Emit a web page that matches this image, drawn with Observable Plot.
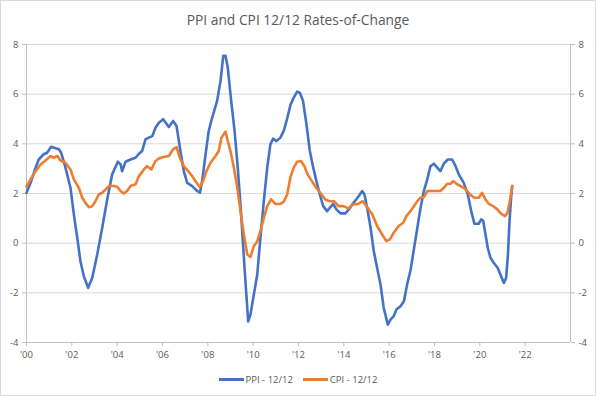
<!DOCTYPE html>
<html>
<head>
<meta charset="utf-8">
<script src="https://cdn.jsdelivr.net/npm/d3@7"></script>
<script src="https://cdn.jsdelivr.net/npm/@observablehq/plot@0.6"></script>
<style>
  html, body { margin: 0; padding: 0; background: #fff; }
  #chart { position: relative; width: 596px; height: 396px; font-family: "Open Sans", sans-serif; color: #595959; overflow: hidden; }
  #frame { position: absolute; left: 0; top: 0; right: 0; bottom: 0; border: 1px solid #d9d9d9; pointer-events: none; }
  #title { position: absolute; left: 0; width: 596px; top: 10px; text-align: center; font-size: 13.8px; line-height: 20px; color: #595959; }
  #plot { position: absolute; left: 0; top: 36px; }
  #legend { position: absolute; left: 0; width: 596px; top: 371px; height: 16px; display: flex; justify-content: center; align-items: center; font-size: 9.5px; color: #595959; }
  .item { display: flex; align-items: center; margin: 0 5px; }
  .sw { display: inline-block; width: 25px; height: 3px; margin-right: 2px; }
</style>
</head>
<body>
<div id="chart">
  <div id="title">PPI and CPI 12/12 Rates-of-Change</div>
  <div id="plot"></div>
  <div id="legend"></div>
  <div id="frame"></div>
</div>
<script>
const seriesNames = ["PPI - 12/12", "CPI - 12/12"];
const seriesColors = ["#4472C4", "#ED7D31"];
const yTicks = [-4, -2, 0, 2, 4, 6, 8];
const xTicks = [2000, 2002, 2004, 2006, 2008, 2010, 2012, 2014, 2016, 2018, 2020, 2022];

const ppiDates = [2000.00,2000.18,2000.40,2000.54,2000.76,2000.91,2001.09,2001.28,2001.43,2001.53,2001.72,2001.94,2002.09,2002.24,2002.38,2002.53,2002.72,2002.90,2003.12,2003.34,2003.56,2003.78,2004.03,2004.15,2004.22,2004.37,2004.59,2004.81,2004.96,2005.10,2005.25,2005.40,2005.55,2005.69,2005.84,2006.03,2006.28,2006.47,2006.62,2006.79,2006.94,2007.09,2007.31,2007.53,2007.65,2007.75,2007.90,2008.04,2008.19,2008.41,2008.56,2008.68,2008.78,2008.88,2009.03,2009.18,2009.32,2009.47,2009.62,2009.78,2009.88,2010.03,2010.18,2010.32,2010.47,2010.62,2010.76,2010.88,2011.03,2011.20,2011.35,2011.50,2011.65,2011.79,2011.94,2012.06,2012.20,2012.35,2012.50,2012.65,2012.79,2012.94,2013.09,2013.26,2013.38,2013.53,2013.67,2013.85,2014.07,2014.22,2014.37,2014.51,2014.66,2014.81,2014.91,2015.03,2015.18,2015.32,2015.47,2015.62,2015.76,2015.94,2016.06,2016.20,2016.32,2016.50,2016.65,2016.79,2016.94,2017.09,2017.24,2017.38,2017.53,2017.68,2017.82,2017.97,2018.12,2018.26,2018.41,2018.59,2018.78,2018.93,2019.07,2019.29,2019.47,2019.62,2019.76,2019.95,2020.06,2020.15,2020.25,2020.35,2020.47,2020.61,2020.79,2020.94,2021.06,2021.16,2021.24,2021.31,2021.38,2021.43];
const ppiValues = [2.03,2.43,3.04,3.37,3.58,3.64,3.88,3.82,3.78,3.64,3.04,2.23,1.16,0.21,-0.73,-1.33,-1.80,-1.40,-0.46,0.62,1.76,2.77,3.28,3.17,2.90,3.28,3.37,3.44,3.60,3.71,4.18,4.25,4.31,4.65,4.85,4.99,4.68,4.92,4.72,3.71,2.90,2.43,2.30,2.10,2.03,2.50,3.58,4.52,5.05,5.73,6.53,7.54,7.54,7.07,5.73,4.52,3.04,1.16,-1.00,-3.15,-2.88,-2.07,-1.26,0.21,1.69,3.04,3.98,4.21,4.11,4.25,4.52,5.02,5.58,5.86,6.10,6.06,5.73,4.79,3.71,3.04,2.50,1.96,1.49,1.29,1.42,1.58,1.36,1.20,1.20,1.36,1.56,1.72,1.90,2.10,1.96,1.42,0.62,-0.32,-1.00,-1.67,-2.61,-3.28,-3.08,-2.94,-2.67,-2.54,-2.34,-1.67,-1.10,-0.25,0.60,1.40,2.10,2.57,3.10,3.20,3.04,2.90,3.20,3.37,3.37,3.10,2.77,2.43,1.96,1.29,0.78,0.78,0.96,0.89,0.35,-0.19,-0.59,-0.79,-1.00,-1.33,-1.60,-1.40,-0.46,0.89,1.83,2.30];

const cpiDates = [2000.00,2000.18,2000.40,2000.62,2000.84,2001.06,2001.20,2001.37,2001.50,2001.72,2001.94,2002.09,2002.31,2002.46,2002.60,2002.75,2002.90,2003.04,2003.19,2003.34,2003.49,2003.63,2003.85,2004.00,2004.15,2004.29,2004.44,2004.59,2004.81,2004.96,2005.18,2005.32,2005.51,2005.69,2005.84,2006.03,2006.28,2006.47,2006.62,2006.76,2006.94,2007.16,2007.31,2007.45,2007.64,2007.79,2007.94,2008.12,2008.34,2008.48,2008.60,2008.78,2008.88,2009.00,2009.15,2009.30,2009.44,2009.59,2009.74,2009.88,2010.03,2010.18,2010.32,2010.47,2010.62,2010.79,2010.98,2011.20,2011.35,2011.50,2011.65,2011.79,2011.94,2012.11,2012.26,2012.40,2012.59,2012.78,2012.96,2013.18,2013.37,2013.57,2013.76,2013.98,2014.20,2014.39,2014.64,2014.83,2015.00,2015.25,2015.47,2015.69,2015.88,2016.03,2016.20,2016.42,2016.62,2016.76,2016.94,2017.09,2017.24,2017.38,2017.53,2017.68,2017.97,2018.26,2018.41,2018.56,2018.71,2018.82,2018.97,2019.15,2019.29,2019.44,2019.59,2019.76,2019.95,2020.10,2020.25,2020.40,2020.59,2020.77,2020.95,2021.11,2021.22,2021.32,2021.43];
const cpiValues = [2.28,2.57,2.90,3.17,3.33,3.51,3.44,3.51,3.33,3.24,2.97,2.57,2.23,1.83,1.62,1.45,1.49,1.69,1.96,2.03,2.16,2.30,2.30,2.27,2.10,2.00,2.10,2.30,2.37,2.70,2.97,3.10,2.97,3.31,3.41,3.47,3.51,3.78,3.87,3.44,3.10,2.87,2.70,2.50,2.26,2.50,2.90,3.24,3.51,3.71,4.25,4.49,4.11,3.71,3.04,2.23,1.29,0.35,-0.46,-0.56,-0.12,0.08,0.48,1.02,1.49,1.76,1.58,1.58,1.67,1.96,2.68,3.04,3.28,3.31,3.10,2.77,2.50,2.23,2.03,1.76,1.69,1.69,1.49,1.49,1.40,1.56,1.58,1.69,1.49,1.16,0.69,0.35,0.08,0.15,0.42,0.69,0.82,1.09,1.29,1.49,1.69,1.83,1.85,2.10,2.10,2.10,2.23,2.39,2.39,2.50,2.39,2.30,2.23,2.10,1.94,1.83,1.83,2.03,1.76,1.58,1.49,1.36,1.18,1.09,1.22,1.69,2.30];

const ppi = ppiDates.map((d, i) => ({x: d, y: ppiValues[i]}));
const cpi = cpiDates.map((d, i) => ({x: d, y: cpiValues[i]}));
const fmtX = d => "'" + String(d % 100).padStart(2, "0");

const axisStroke = "#bfbfbf";
const gridStroke = "#d9d9d9";
const textFill = "#595959";

const chart = Plot.plot({
  width: 596,
  height: 330,
  marginTop: 8,
  marginBottom: 24,
  marginLeft: 26,
  marginRight: 26,
  style: {fontFamily: "Open Sans, sans-serif", fontSize: "9.5px", background: "transparent", overflow: "visible"},
  x: {type: "linear", domain: [2000, 2024]},
  y: {domain: [-4, 8]},
  marks: [
    Plot.ruleY(yTicks.filter(d => d > -4), {stroke: gridStroke, strokeWidth: 1}),
    Plot.ruleX([2000, 2024], {stroke: axisStroke, strokeWidth: 1}),
    Plot.ruleY([-4], {stroke: axisStroke, strokeWidth: 1}),
    Plot.axisY({anchor: "left", ticks: yTicks, tickSize: 4, tickPadding: 4, stroke: axisStroke, fill: textFill, label: null, tickFormat: d => String(d)}),
    Plot.axisY({anchor: "right", ticks: yTicks, tickSize: 4, tickPadding: 4, stroke: axisStroke, fill: textFill, label: null, tickFormat: d => String(d)}),
    Plot.axisX({ticks: xTicks, tickSize: 4, tickPadding: 5, stroke: axisStroke, fill: textFill, label: null, tickFormat: fmtX}),
    Plot.line(ppi, {x: "x", y: "y", stroke: seriesColors[0], strokeWidth: 2.6, strokeLinejoin: "round", strokeLinecap: "round"}),
    Plot.line(cpi, {x: "x", y: "y", stroke: seriesColors[1], strokeWidth: 2.6, strokeLinejoin: "round", strokeLinecap: "round"})
  ]
});
document.getElementById("plot").appendChild(chart);

const legend = document.getElementById("legend");
seriesNames.forEach((name, i) => {
  const item = document.createElement("div");
  item.className = "item";
  const sw = document.createElement("span");
  sw.className = "sw";
  sw.style.background = seriesColors[i];
  const lbl = document.createElement("span");
  lbl.textContent = name;
  item.appendChild(sw);
  item.appendChild(lbl);
  legend.appendChild(item);
});
</script>
</body>
</html>
